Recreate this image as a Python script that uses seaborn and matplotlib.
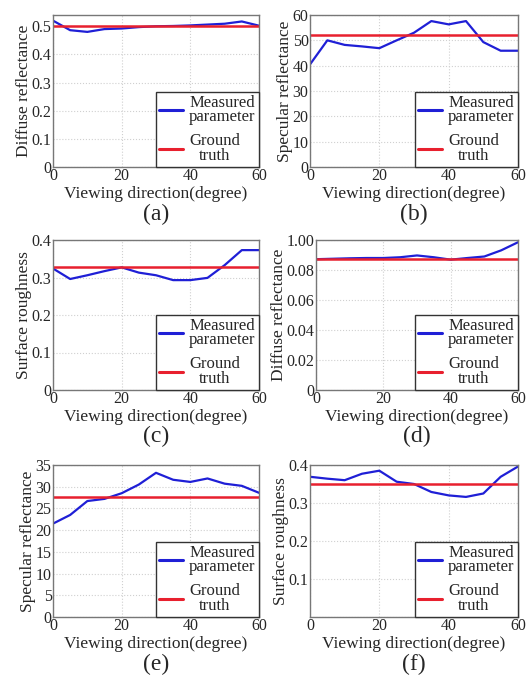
import matplotlib
matplotlib.use("Agg")
import matplotlib.pyplot as plt
import seaborn as sns
import pandas as pd

sns.set_theme(style="white")
plt.rcParams['font.family'] = ['Liberation Serif', 'DejaVu Serif']
plt.rcParams['mathtext.fontset'] = 'stix'

angles = [0, 5, 10, 15, 20, 25, 30, 35, 40, 45, 50, 55, 60]

meas_a = [0.52, 0.486, 0.48, 0.49, 0.492, 0.497, 0.50, 0.501, 0.503, 0.506, 0.509, 0.517, 0.502]
meas_b = [40.5, 50.0, 48.2, 47.6, 46.9, 50.0, 53.0, 57.6, 56.3, 57.6, 49.3, 45.9, 45.9]
meas_c = [0.324, 0.296, 0.306, 0.317, 0.327, 0.313, 0.306, 0.293, 0.293, 0.299, 0.333, 0.373, 0.373]
meas_d = [0.0872, 0.0875, 0.0878, 0.0880, 0.0880, 0.0885, 0.0897, 0.0885, 0.0869, 0.0880, 0.0890, 0.0931, 0.0985]
meas_e = [21.5, 23.5, 26.7, 27.2, 28.5, 30.5, 33.2, 31.6, 31.1, 31.9, 30.7, 30.2, 28.6]
meas_f = [0.369, 0.364, 0.36, 0.377, 0.385, 0.356, 0.35, 0.329, 0.32, 0.316, 0.325, 0.369, 0.396]

truth = [0.50, 52.3, 0.329, 0.0872, 27.6, 0.351]

ylabels = ["Diffuse reflectance", "Specular reflectance", "Surface roughness",
           "Diffuse reflectance", "Specular reflectance", "Surface roughness"]
panel_tags = ["(a)", "(b)", "(c)", "(d)", "(e)", "(f)"]
yticks = [
    [0, 0.1, 0.2, 0.3, 0.4, 0.5],
    [0, 10, 20, 30, 40, 50, 60],
    [0, 0.1, 0.2, 0.3, 0.4],
    [0, 0.02, 0.04, 0.06, 0.08, 0.10],
    [0, 5, 10, 15, 20, 25, 30, 35],
    [0, 0.1, 0.2, 0.3, 0.4],
]
yticklabels = [
    ["0", "0.1", "0.2", "0.3", "0.4", "0.5"],
    ["0", "10", "20", "30", "40", "50", "60"],
    ["0", "0.1", "0.2", "0.3", "0.4"],
    ["0", "0.02", "0.04", "0.06", "0.08", "1.00"],
    ["0", "5", "10", "15", "20", "25", "30", "35"],
    ["", "0.1", "0.2", "0.3", "0.4"],
]
ylims = [(0, 0.54), (0, 60), (0, 0.4), (0, 0.1), (0, 35), (0, 0.4)]
xticks = [0, 20, 40, 60]
series = [meas_a, meas_b, meas_c, meas_d, meas_e, meas_f]

W, H = 526, 677
# axes boxes in pixels: left, top, right, bottom
boxes = [
    (53, 15, 259, 167), (310, 15, 518, 167),
    (53, 240, 259, 390), (316, 240, 518, 390),
    (53, 465, 259, 617), (310, 465, 518, 617),
]

fig = plt.figure(figsize=(W / 100, H / 100), dpi=100)
blue = "#1f1fd6"
red = "#e8202e"

for i in range(6):
    l, t, r, b = boxes[i]
    ax = fig.add_axes([l / W, 1 - b / H, (r - l) / W, (b - t) / H])
    df = pd.DataFrame({"angle": angles, "meas": series[i],
                       "truth": [truth[i]] * len(angles)})
    sns.lineplot(data=df, x="angle", y="meas", ax=ax, color=blue, lw=1.6,
                 label="Measured\nparameter")
    sns.lineplot(data=df, x="angle", y="truth", ax=ax, color=red, lw=1.8,
                 label="Ground\ntruth")
    ax.set_xlim(0, 60)
    ax.set_ylim(*ylims[i])
    ax.set_xticks(xticks)
    ax.set_xticklabels([str(v) for v in xticks])
    ax.set_yticks(yticks[i])
    ax.set_yticklabels(yticklabels[i])
    ax.tick_params(axis="both", labelsize=11.5, direction="in", length=3,
                   pad=1, color="#555555")
    ax.set_xlabel("Viewing direction(degree)", fontsize=12.5, labelpad=1)
    ax.set_ylabel(ylabels[i], fontsize=12.5, labelpad=0)
    ax.grid(True, color="#d0d0d0", linestyle=":", linewidth=0.8)
    for sp in ax.spines.values():
        sp.set_color("#777777")
        sp.set_linewidth(1.0)
    leg = ax.legend(loc="lower right", borderaxespad=0, fancybox=False,
                    fontsize=12, handlelength=1.4, handletextpad=0.4,
                    borderpad=0.2, labelspacing=0.5, framealpha=1)
    leg.get_frame().set_edgecolor("#333333")
    leg.get_frame().set_linewidth(1.0)
    for txt in leg.get_texts():
        txt.set_multialignment("center")
        txt.set_linespacing(0.85)
    for ln in leg.get_lines():
        ln.set_linewidth(2.2)
    ax.text(0.5, -0.31, panel_tags[i], transform=ax.transAxes, ha="center",
            va="center", fontsize=17)

fig.savefig("out.png", dpi=100)
